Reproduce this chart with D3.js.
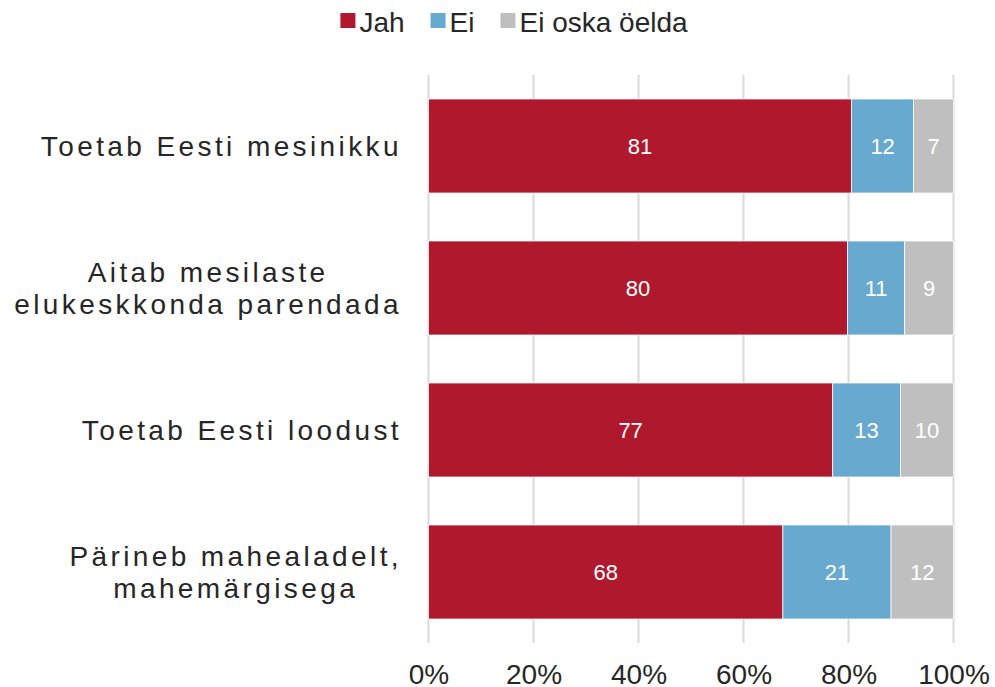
<!DOCTYPE html>
<html><head><meta charset="utf-8">
<script src="https://cdn.jsdelivr.net/npm/d3@7"></script>
<style>
body{margin:0;background:#fff;}
svg{display:block;font-family:"Liberation Sans",Arial,sans-serif;}
</style></head>
<body><svg id="chart" width="995" height="687"></svg>
<script>
const categories = [
  ["Toetab Eesti mesinikku"],
  ["Aitab mesilaste","elukeskkonda parendada"],
  ["Toetab Eesti loodust"],
  ["Pärineb mahealadelt,","mahemärgisega"]
];
const seriesNames = ["Jah","Ei","Ei oska öelda"];
const jah = [80.6, 79.8, 77.0, 67.5];
const ei = [11.8, 10.9, 12.9, 20.6];
const eos = [7.6, 9.3, 10.1, 11.9];
const jahLabels = [81, 80, 77, 68];
const eiLabels = [12, 11, 13, 21];
const eosLabels = [7, 9, 10, 12];
const tickValues = [0, 20, 40, 60, 80, 100];
const colors = ["#B0192D", "#68A9D0", "#BFBFBF"];

const svg = d3.select("#chart");
const margin = {left: 428.5, right: 41, top: 75, bottom: 44};
const W = 995, H = 687;
const x = d3.scaleLinear().domain([0, 100]).range([margin.left, 953.5]);
const y = d3.scaleBand().domain(d3.range(categories.length))
  .range([margin.top, H - margin.bottom]).paddingInner(0.338).paddingOuter(0.169);

// gridlines
svg.append("g").selectAll("line").data(tickValues).join("line")
  .attr("x1", d => x(d)).attr("x2", d => x(d))
  .attr("y1", margin.top).attr("y2", H - margin.bottom)
  .attr("stroke", "#D9D9D9").attr("stroke-width", 2);

// axis
const axis = d3.axisBottom(x).tickValues(tickValues).tickFormat(d => d + "%").tickSize(0).tickPadding(0);
const ag = svg.append("g").attr("transform", `translate(0,${H - margin.bottom})`).call(axis);
ag.select(".domain").remove();
ag.selectAll("text").attr("font-size", 28).attr("fill", "#262626")
  .attr("font-family", "Liberation Sans, Arial, sans-serif").attr("dy", null).attr("y", 41);

// stacked data
const values = [jah, ei, eos];
const labels = [jahLabels, eiLabels, eosLabels];
const rows = categories.map((c, i) => {
  let acc = 0;
  return values.map((v, s) => {
    const seg = {row: i, s, x0: acc, x1: acc + v[i], label: labels[s][i]};
    acc += v[i];
    return seg;
  });
}).flat();

svg.append("g").selectAll("rect").data(rows).join("rect")
  .attr("x", d => x(d.x0)).attr("width", d => x(d.x1) - x(d.x0))
  .attr("y", d => y(d.row)).attr("height", y.bandwidth())
  .attr("fill", d => colors[d.s]).attr("stroke", "#fff").attr("stroke-width", 0.75);

svg.append("g").selectAll("text").data(rows).join("text")
  .attr("x", d => (x(d.x0) + x(d.x1)) / 2)
  .attr("y", d => y(d.row) + y.bandwidth() / 2 + 8)
  .attr("text-anchor", "middle").attr("font-size", 22).attr("fill", "#fff")
  .text(d => d.label);

// category labels
const catG = svg.append("g");
categories.forEach((lines, i) => {
  const t = catG.append("text").attr("font-size", 28).attr("fill", "#262626")
    .attr("letter-spacing", 3.4).attr("text-anchor", "middle");
  const cy = y(i) + y.bandwidth() / 2;
  const lh = 32.7;
  const base = cy + 10 - (lines.length - 1) * lh / 2;
  const tsp = lines.map((l, k) => t.append("tspan").attr("y", base + k * lh).text(l));
  const widths = tsp.map(s => s.node().getComputedTextLength());
  const w = d3.max(widths);
  const cx = 402 - w / 2;
  tsp.forEach(s => s.attr("x", cx));
});

// legend
const lg = svg.append("g");
let lx = 0;
const items = seriesNames.map((n, i) => {
  const g = lg.append("g").attr("transform", `translate(${lx},0)`);
  g.append("rect").attr("x", 0).attr("y", 13).attr("width", 15).attr("height", 15).attr("fill", colors[i]);
  const t = g.append("text").attr("x", 19).attr("y", 32).attr("font-size", 28).attr("fill", "#262626").text(n);
  lx += 19 + t.node().getComputedTextLength() + 26;
  return g;
});
const totalW = lx - 26;
lg.attr("transform", `translate(${514 - totalW / 2},0)`);
</script></body></html>
